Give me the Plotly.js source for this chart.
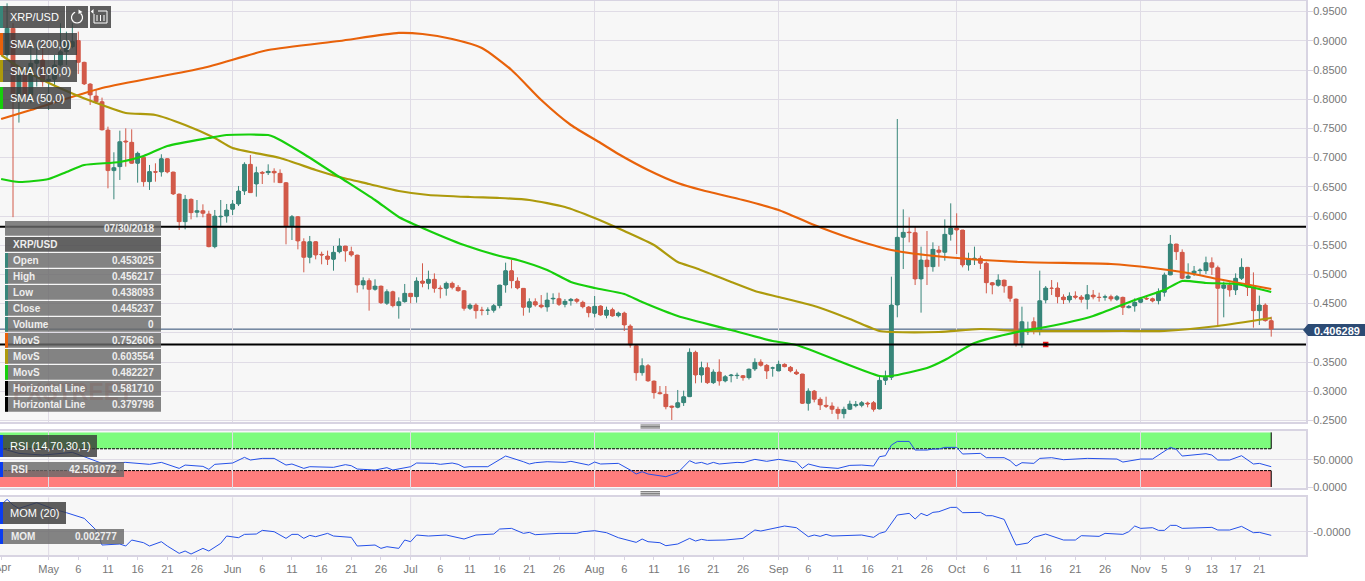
<!DOCTYPE html>
<html>
<head>
<meta charset="utf-8">
<script src="https://cdn.plot.ly/plotly-3.0.1.min.js"></script>
<style>html,body{margin:0;padding:0;background:#fff;overflow:hidden}#chart{width:1365px;height:581px}</style>
</head>
<body>
<div id="chart"></div>
<script>
// Days are counted from 1 May 2018; one candle per calendar day, first candle is day -7.
const firstDay = -7;
const openPrices = [
.8757,.9214,.8072,.8415,.8072,.8614,.8672,.8315,.8341,.8586,
.8814,.8900,.9003,.8632,.8261,.8055,.7958,.7473,.6777,.6845,
.7285,.7262,.6902,.7005,.6588,.6760,.6754,.6982,.6754,.6377,
.5903,.6286,.6063,.6092,.6035,.5475,.5985,.6000,.6115,.6206,
.6428,.6885,.6548,.6748,.6742,.6765,.6731,.6571,.5829,.5989,
.5561,.5292,.5561,.5344,.5315,.5258,.5389,.5486,.5389,.5332,
.4818,.4893,.4744,.4801,.4505,.4704,.4465,.4533,.4676,.4619,
.4887,.4847,.4916,.4767,.4761,.4847,.4778,.4721,.4419,.4476,
.4390,.4385,.4385,.4465,.4818,.5064,.4887,.4761,.4436,.4533,
.4476,.4442,.4579,.4584,.4487,.4550,.4573,.4522,.4442,.4333,
.4459,.4299,.4396,.4293,.4339,.4116,.3780,.3317,.3437,.3175,
.2975,.2947,.2747,.2724,.2804,.2906,.3666,.3277,.3403,.3146,
.3329,.3175,.3266,.3266,.3266,.3232,.3380,.3500,.3443,.3395,
.3346,.3460,.3409,.3329,.3295,.2792,.3003,.2861,.2758,.2747,
.2690,.2615,.2690,.2752,.2758,.2798,.2804,.2696,.3186,.3237,
.4476,.5635,.5726,.5715,.4921,.5247,.5132,.5418,.5378,.5686,
.5795,.5760,.5161,.5264,.5275,.5190,.4858,.4813,.4904,.4795,
.4579,.3803,.4014,.4191,.4031,.4562,.4767,.4767,.4613,.4562,
.4630,.4613,.4573,.4647,.4610,.4607,.4619,.4573,.4607,.4430,
.4459,.4522,.4590,.4584,.4550,.4693,.4990,.5521,.5378,.4933,
.5018,.5064,.5064,.5201,.5115,.4761,.4818,.4733,.4933,.5121,
.4778,.4379,.4476,.4208];
const highPrices = [
.9642,.9300,.8500,.8560,.8900,.8957,.9000,.8560,.8757,.9300,
.9157,.9300,.9157,.8640,.8272,.8158,.8027,.7530,.7091,.7461,
.7501,.7484,.7102,.7045,.6874,.6902,.7057,.6982,.6754,.6377,
.6360,.6300,.6274,.6200,.6090,.6103,.6274,.6206,.6274,.6514,
.6920,.7045,.6845,.6770,.6885,.6817,.6799,.6571,.6017,.5989,
.5618,.5658,.5561,.5389,.5407,.5487,.5618,.5486,.5475,.5332,
.4950,.4933,.4916,.4801,.4744,.4721,.4607,.4836,.4676,.4950,
.5190,.5064,.5018,.4812,.4876,.4876,.4818,.4733,.4505,.4505,
.4445,.4436,.4493,.4818,.5201,.5247,.4950,.4761,.4590,.4590,
.4647,.4687,.4676,.4687,.4579,.4596,.4596,.4550,.4459,.4630,
.4470,.4447,.4430,.4362,.4362,.4145,.3780,.3563,.3466,.3175,
.3089,.3089,.2747,.3021,.3009,.3734,.3694,.3506,.3489,.3374,
.3546,.3277,.3295,.3317,.3277,.3380,.3563,.3546,.3466,.3420,
.3523,.3477,.3432,.3374,.3295,.3049,.3021,.2895,.2906,.2809,
.2735,.2735,.2838,.2832,.2832,.2821,.2832,.3277,.3352,.4961,
.7661,.6114,.5977,.5817,.5475,.5743,.5549,.5486,.5943,.6217,
.6046,.5760,.5372,.5475,.5321,.5218,.4870,.5001,.4904,.4801,
.4579,.4447,.4191,.4265,.5064,.4801,.4904,.4864,.4659,.4693,
.4710,.4647,.4818,.4733,.4687,.4653,.4653,.4647,.4619,.4476,
.4590,.4590,.4647,.4602,.4761,.5030,.5675,.5521,.5429,.5190,
.5144,.5104,.5304,.5292,.5150,.4876,.4864,.5018,.5275,.5121,
.5035,.4636,.4505,.4276];
const lowPrices = [
.8700,.5980,.7599,.7970,.7930,.8215,.8215,.7815,.8215,.8557,
.8586,.8871,.8432,.8243,.7901,.7918,.7473,.6474,.6286,.6617,
.6845,.6902,.6571,.6503,.6446,.6588,.6674,.6731,.6360,.5761,
.5772,.5943,.5977,.5977,.5465,.5447,.5830,.5886,.6017,.6172,
.6360,.6400,.6331,.6548,.6702,.6571,.6571,.5515,.5589,.5429,
.5036,.5190,.5258,.5173,.5161,.5064,.5361,.5218,.5304,.4687,
.4744,.4379,.4721,.4493,.4476,.4436,.4242,.4516,.4505,.4516,
.4779,.4744,.4687,.4590,.4636,.4744,.4704,.4379,.4390,.4242,
.4299,.4305,.4345,.4419,.4687,.4761,.4744,.4293,.4345,.4447,
.4419,.4362,.4493,.4459,.4436,.4465,.4505,.4419,.4265,.4265,
.4293,.4248,.4276,.4265,.4031,.3745,.3180,.3266,.3165,.2872,
.2947,.2690,.2507,.2707,.2747,.2906,.3135,.3146,.3123,.3123,
.3095,.3152,.3152,.3209,.3180,.3200,.3346,.3420,.3209,.3249,
.3346,.3409,.3323,.3277,.2781,.2667,.2809,.2678,.2712,.2610,
.2518,.2535,.2678,.2724,.2724,.2724,.2650,.2690,.3106,.3192,
.4265,.5092,.5549,.4818,.4345,.4818,.5047,.5132,.5235,.5578,
.5349,.5121,.5064,.5161,.5092,.4676,.4659,.4790,.4687,.4533,
.3763,.3745,.3963,.3974,.3957,.4505,.4647,.4505,.4493,.4516,
.4573,.4516,.4402,.4573,.4533,.4550,.4539,.4544,.4305,.4419,
.4362,.4505,.4562,.4522,.4487,.4619,.4990,.5247,.4916,.4933,
.4973,.4973,.5007,.4990,.4117,.4265,.4619,.4647,.4904,.4630,
.4088,.4134,.4191,.3934];
const closePrices = [
.9214,.8044,.8415,.8072,.8614,.8672,.8300,.8340,.8586,.8814,
.8986,.8986,.8632,.8261,.8072,.7958,.7473,.6777,.6828,.7273,
.7268,.6902,.7073,.6588,.6760,.6748,.6982,.6754,.6377,.5903,
.6286,.6057,.6092,.6046,.5475,.6000,.5995,.6103,.6206,.6428,
.6885,.6400,.6742,.6731,.6765,.6737,.6571,.5829,.5989,.5572,
.5292,.5561,.5332,.5332,.5258,.5378,.5486,.5401,.5332,.4818,
.4893,.4744,.4801,.4516,.4704,.4465,.4533,.4676,.4619,.4887,
.4847,.4916,.4761,.4756,.4847,.4778,.4721,.4419,.4476,.4379,
.4385,.4390,.4465,.4818,.5064,.4893,.4767,.4436,.4533,.4476,
.4442,.4562,.4590,.4487,.4539,.4573,.4539,.4447,.4345,.4453,
.4305,.4390,.4288,.4339,.4134,.3791,.3317,.3437,.3175,.2975,
.2958,.2735,.2724,.2804,.2906,.3666,.3277,.3403,.3146,.3329,
.3175,.3249,.3277,.3272,.3232,.3380,.3494,.3443,.3346,.3400,
.3460,.3420,.3346,.3295,.2792,.3003,.2861,.2764,.2741,.2690,
.2621,.2690,.2781,.2775,.2804,.2781,.2690,.3186,.3237,.4476,
.5635,.5720,.5715,.4921,.5247,.5132,.5429,.5378,.5686,.5795,
.5760,.5161,.5264,.5275,.5190,.4858,.4818,.4904,.4801,.4590,
.3803,.4191,.4031,.4031,.4550,.4767,.4761,.4619,.4567,.4630,
.4607,.4573,.4653,.4613,.4605,.4619,.4579,.4619,.4436,.4453,
.4522,.4579,.4579,.4544,.4704,.4990,.5521,.5389,.4933,.4973,
.5058,.5075,.5201,.5121,.4761,.4818,.4733,.4933,.5121,.4778,
.4379,.4476,.4208,.4063];

const sma200Days = [-8,-3,9,26,37,49,59,63,68,73,78,83,88,93,96,101,106,110,117,123,129,135,142,151,164,179,186,192,197,206];
const sma200Values = [.7661,.7815,.8192,.8534,.8842,.8997,.9134,.9116,.9031,.8877,.8500,.7986,.7558,.7250,.7062,.6788,.6565,.6445,.6274,.6103,.5846,.5623,.5418,.5298,.5212,.5178,.5110,.5024,.4921,.4750];
const sma100Days = [-8,-5,-1,5,9,13,18,23,28,31,39,45,49,54,59,64,71,76,81,87,92,97,102,106,109,115,119,123,129,135,140,142,150,157,164,181,188,197,206];
const sma100Values = [.8757,.8551,.8329,.8055,.7901,.7764,.7729,.7558,.7336,.7164,.6993,.6788,.6668,.6548,.6428,.6360,.6325,.6308,.6274,.6154,.5966,.5743,.5503,.5212,.5110,.4870,.4716,.4613,.4459,.4236,.4031,.4014,.4014,.4065,.4031,.4031,.4031,.4116,.4253];
const sma50Days = [-8,-5,0,3,6,12,16,20,27,30,37,38,43,49,55,59,63,70,76,79,84,88,92,97,100,106,115,122,126,140,142,148,151,156,164,168,176,183,188,191,195,200,206];
const sma50Values = [.6634,.6582,.6634,.6753,.6873,.6925,.7027,.7199,.7336,.7387,.7387,.7353,.7062,.6668,.6274,.5983,.5795,.5503,.5315,.5247,.5075,.4870,.4767,.4664,.4527,.4288,.4048,.3860,.3791,.3260,.3260,.3397,.3534,.3825,.4031,.4099,.4288,.4562,.4733,.4887,.4853,.4836,.4699];

const rsiDays = [-8,-5,-1,4,6,9,13,15,17,19,22,23,26,27,28,31,33,34,36,38,40,41,43,44,48,50,51,52,55,57,58,61,62,65,66,68,69,70,71,74,77,80,81,82,84,87,88,91,92,93,96,98,99,100,101,104,106,108,109,110,111,112,113,116,117,119,121,123,126,127,128,130,133,135,137,139,140,141,142,143,145,146,148,149,150,151,153,154,157,158,161,162,163,164,166,167,169,171,175,180,181,184,186,189,190,191,195,196,197,199,201,203,204,206];
const rsiValues = [70.7,61.6,58.5,63.4,55.5,43.3,45.1,43.3,41.5,45.1,34.1,40.2,37.8,32.3,41.5,43.9,54.3,49.4,52.4,52.4,40.2,42.1,34.1,37.2,36,40.9,39,32.9,31.1,35.4,31.1,37.2,43.9,43.3,41.5,43.9,41.5,36,37.2,37.2,56.7,46.3,42.1,44.5,46.3,45.1,47,40.2,45.7,42.1,43.3,31.1,23.8,28,23.8,18.9,26.2,48.2,43.3,45.1,41.5,45.1,42.1,45.1,44.5,50.6,47,50.6,45.7,34.1,42.1,36.6,34.1,39.6,40.2,38.4,55.5,57.3,76.8,83.5,83.5,67.7,67.7,69.5,69.5,72.6,72.6,60.4,61.6,53.7,53.7,48.2,38.4,44.5,43.3,52.4,53.7,50,52.4,51.2,45.7,51.2,51.2,72.6,68.9,56.7,61,58.5,49.4,49.4,57.3,42.1,43.3,37.2];

const momDays = [-8,-7,-6,-5,-2,1,3,5,6,8,9,12,13,14,16,17,19,20,22,23,24,26,27,29,30,32,33,35,36,38,40,41,42,43,44,45,47,48,51,52,55,56,57,59,60,61,62,64,67,70,72,75,76,78,80,81,82,86,89,90,92,94,96,99,100,101,103,104,106,108,109,110,111,114,117,119,120,124,126,128,129,130,131,132,137,139,140,141,143,145,146,147,148,149,150,152,153,154,157,158,159,161,163,165,166,168,171,173,174,177,178,181,182,183,184,186,187,188,189,190,191,196,197,199,201,203,204,206];
const momValues = [.080,.097,.080,.070,.087,.067,.057,.047,.040,.005,-.040,-.037,-.043,-.025,-.033,-.043,-.030,-.043,-.065,-.058,-.067,-.050,-.058,-.035,-.013,-.018,-.008,-.007,.004,0,-.020,-.008,-.008,-.020,-.011,-.015,-.005,-.013,-.017,-.043,-.040,-.050,-.045,-.050,-.025,-.030,-.010,-.013,-.010,-.022,-.010,-.007,.008,.010,-.005,-.002,-.009,-.005,-.005,0,.003,-.003,-.018,-.032,-.022,-.030,-.033,-.042,-.037,-.020,-.028,-.023,-.026,-.025,-.020,.005,.002,.017,.012,-.015,-.010,-.014,-.008,-.013,-.010,-.017,-.005,0,.050,.055,.038,.055,.048,.058,.060,.073,.073,.057,.058,.048,.048,.037,-.040,-.034,-.017,-.007,-.025,-.025,-.012,-.014,-.005,-.008,0,.017,.010,.012,.004,.004,.019,.019,.010,.013,.005,.005,.016,-.003,-.002,-.011];

const horizontalLevels = [0.581710, 0.379798];
const lastPrice = 0.406289;
const alertDay = 168;
const alertLevel = 0.379798;

const priceTicks = [.95,.9,.85,.8,.75,.7,.65,.6,.55,.5,.45,.4,.35,.3,.25];
const monthDays = [0,31,61,92,123,153,184];
const tickDays = [-8,0,5,10,15,20,25,31,36,41,46,51,56,61,66,71,76,81,86,92,97,102,107,112,117,123,128,133,138,143,148,153,158,163,168,173,178,184,188,192,196,200,204];
const tickLabels = ['','May','6','11','16','21','26','Jun','6','11','16','21','26','Jul','6','11','16','21','26','Aug','6','11','16','21','26','Sep','6','11','16','21','26','Oct','6','11','16','21','26','Nov','5','9','13','17','21'];

const infoDate = '07/30/2018';
const infoSymbol = 'XRP/USD';
const infoLabels = ['Open','High','Low','Close','Volume','MovS','MovS','MovS','Horizontal Line','Horizontal Line'];
const infoValues = ['0.453025','0.456217','0.438093','0.445237','0','0.752606','0.603554','0.482227','0.581710','0.379798'];

// ---- styling & helpers ----
const W = 1365, H = 581, plotRight = 1306;
const TEAL = '#38867a', RED = '#d25a4a', ORANGE = '#e8620a', OLIVE = '#ad9a0c', LIME = '#17cf0c', BLUE = '#2450e8';
const GRID = '#e0dce6', BORDER = '#d8d4e2', TEXT = '#777777', FONT = '"Liberation Sans", Arial, sans-serif';
const px = x => x / W, py = y => 1 - y / H;
const dateOf = d => new Date(Date.UTC(2018, 4, 1) + d * 864e5).toISOString().slice(0, 19);
const candleDays = openPrices.map((_, i) => firstDay + i);
const fmt = v => v.toFixed(4);

const traces = [
  // candle bodies, widened to the reference's width
  { type: 'bar', x: candleDays.map(dateOf), base: openPrices.map((o, i) => Math.min(o, closePrices[i])), y: openPrices.map((o, i) => Math.abs(o - closePrices[i])),
    width: 0.82 * 864e5, marker: { color: openPrices.map((o, i) => closePrices[i] >= o ? TEAL : RED), line: { width: 0 } }, xaxis: 'x', yaxis: 'y', showlegend: false, hoverinfo: 'skip' },
  { type: 'candlestick', x: candleDays.map(dateOf), open: openPrices, high: highPrices, low: lowPrices, close: closePrices,
    increasing: { line: { color: TEAL, width: 1 }, fillcolor: TEAL },
    decreasing: { line: { color: RED, width: 1 }, fillcolor: RED },
    whiskerwidth: 0, xaxis: 'x', yaxis: 'y', showlegend: false, hoverinfo: 'skip' },
  { type: 'scatter', mode: 'lines', x: sma200Days.map(dateOf), y: sma200Values, line: { color: ORANGE, width: 2.2, shape: 'spline', smoothing: 0.6 }, xaxis: 'x', yaxis: 'y', hoverinfo: 'skip' },
  { type: 'scatter', mode: 'lines', x: sma100Days.map(dateOf), y: sma100Values, line: { color: OLIVE, width: 2.2, shape: 'spline', smoothing: 0.6 }, xaxis: 'x', yaxis: 'y', hoverinfo: 'skip' },
  { type: 'scatter', mode: 'lines', x: sma50Days.map(dateOf), y: sma50Values, line: { color: LIME, width: 2.2, shape: 'spline', smoothing: 0.6 }, xaxis: 'x', yaxis: 'y', hoverinfo: 'skip' },
  { type: 'scatter', mode: 'markers', x: [dateOf(alertDay)], y: [alertLevel], marker: { symbol: 'square', size: 4, color: '#000', line: { color: '#e81818', width: 1.5 } }, xaxis: 'x', yaxis: 'y', hoverinfo: 'skip' },
  { type: 'scatter', mode: 'lines', x: rsiDays.map(dateOf), y: rsiValues, line: { color: BLUE, width: 1 }, xaxis: 'x2', yaxis: 'y2', hoverinfo: 'skip' },
  { type: 'scatter', mode: 'lines', x: momDays.map(dateOf), y: momValues, line: { color: BLUE, width: 1 }, xaxis: 'x3', yaxis: 'y3', hoverinfo: 'skip' }
];

const shapes = [], annotations = [];
const rect = (x0, y0, x1, y1, fill, layer) => shapes.push({ type: 'rect', xref: 'paper', yref: 'paper', x0: px(x0), x1: px(x1), y0: py(y0), y1: py(y1), fillcolor: fill, line: { width: 0 }, layer: layer || 'above' });
const seg = (x0, y0, x1, y1, color, w) => shapes.push({ type: 'line', xref: 'paper', yref: 'paper', x0: px(x0), x1: px(x1), y0: py(y0), y1: py(y1), line: { color, width: w || 1 }, layer: 'above' });
const poly = (pts, fill, color, w) => shapes.push({ type: 'path', xref: 'paper', yref: 'paper', layer: 'above',
  path: pts.map((p, i) => (i ? 'L' : 'M') + px(p[0]) + ',' + py(p[1])).join(' ') + (fill ? ' Z' : ''),
  fillcolor: fill || 'rgba(0,0,0,0)', line: { color: color || 'rgba(0,0,0,0)', width: w || 0 } });
const label = (x, y, text, anchor, size, color, bold) => annotations.push({ xref: 'paper', yref: 'paper', x: px(x), y: py(y), text: bold ? '<b>' + text + '</b>' : text, showarrow: false, xanchor: anchor, yanchor: 'middle', align: anchor, borderpad: 0, font: { family: FONT, size, color: color || '#fff' } });

// month grid in the lower pane (tick labels there fall on every fifth day)
monthDays.forEach(d => shapes.push({ type: 'line', xref: 'x3', yref: 'y3 domain', x0: dateOf(d), x1: dateOf(d), y0: 0, y1: 1, line: { color: GRID, width: 1 }, layer: 'below' }));
// RSI bands
const bandEnd = dateOf(206);
const bandStart = dateOf(-8.19);
[[70, 100, '#7dfc7d'], [0, 30, '#ff7d7d']].forEach(b => shapes.push({ type: 'rect', xref: 'x2', yref: 'y2', x0: bandStart, x1: bandEnd, y0: b[0], y1: b[1], fillcolor: b[2], line: { width: 0 }, layer: 'below' }));
[70, 30].forEach(v => shapes.push({ type: 'line', xref: 'x2', yref: 'y2', x0: bandStart, x1: bandEnd, y0: v, y1: v, line: { color: '#000', width: 1, dash: '3px,1px' }, layer: 'below' }));
[[70, 100], [0, 30]].forEach(b => shapes.push({ type: 'line', xref: 'x2', yref: 'y2', x0: bandEnd, x1: bandEnd, y0: b[0], y1: b[1], line: { color: '#000', width: 1 }, layer: 'below' }));
// price levels
shapes.push({ type: 'line', xref: 'x domain', yref: 'y', x0: 0, x1: 1, y0: lastPrice, y1: lastPrice, line: { color: '#2c4a72', width: 1 }, layer: 'below' });
horizontalLevels.forEach(v => shapes.push({ type: 'line', xref: 'x domain', yref: 'y', x0: 0, x1: 1, y0: v, y1: v, line: { color: '#000', width: 2 }, layer: 'above' }));

// price tag
poly([[1303, 330], [1308, 324], [1365, 324], [1365, 336], [1308, 336]], '#2c4b74');
label(1313, 330.5, lastPrice.toFixed(6), 'left', 11, '#fff', true);

// first, clipped month label
label(12, 567, 'Apr', 'right', 11, TEXT, false);

// pane resize handles
[[425, 426.7, 428], [491.7, 493.3, 495]].forEach(ys => ys.forEach(y => seg(640.5, y, 660, y, '#666', 1)));

// top-left toolbar & indicator chips
const CHIP = 'rgba(58,58,58,0.82)';
[[6, 65, TEAL, 'XRP/USD'], [33, 77, ORANGE, 'SMA (200,0)'], [60, 77, OLIVE, 'SMA (100,0)'], [87, 71, LIME, 'SMA (50,0)']].forEach(c => {
  rect(0, c[0], 3, c[0] + 22, c[2]);
  rect(3, c[0], c[1], c[0] + 22, CHIP);
  label(9, c[0] + 11, c[3], 'left', 11, '#fff', false);
});
rect(66, 6, 88, 28, CHIP);
rect(90, 6, 111, 28, CHIP);
// refresh icon
const arc = [];
for (let a = -50; a <= 250; a += 20) arc.push([77 + 5.5 * Math.cos(a * Math.PI / 180), 17.5 + 5.5 * Math.sin(a * Math.PI / 180)]);
poly(arc, null, '#fff', 1.2);
poly([[78.5, 9.5], [82.5, 12], [78.5, 14]], '#fff');
// chart-settings icon
poly([[94, 14], [94, 23], [107, 23], [107, 11], [98, 11]], null, '#fff', 1);
poly([[93.5, 9], [93.5, 14], [90.8, 11.5]], '#fff');
[97, 100.5, 104].forEach(x => seg(x, 15, x, 21, '#fff', 1));

// watermark under the data box
label(12, 392, 'FXSTREET', 'left', 23, 'rgba(130,70,60,0.20)', true);

// data box
const ROW = 'rgba(105,105,105,0.82)', ROWDARK = 'rgba(72,72,72,0.85)';
rect(5, 221, 161, 235.7, ROW);
label(155, 228.6, infoDate, 'right', 10, '#eee', true);
rect(5, 237, 161, 251.7, ROWDARK);
label(12, 244.6, infoSymbol, 'left', 10, '#eee', true);
const infoColors = [TEAL, TEAL, TEAL, TEAL, TEAL, ORANGE, OLIVE, LIME, '#000', '#000'];
infoLabels.forEach((name, i) => {
  const y0 = 253 + 16 * i;
  rect(5, y0, 161, y0 + 14.7, ROW);
  rect(5, y0, 8, y0 + 14.7, infoColors[i]);
  label(12, y0 + 7.6, name, 'left', 10, '#eee', true);
  label(155, y0 + 7.6, infoValues[i], 'right', 10, '#eee', true);
});

// RSI & MOM chips
[[435, 97, 'RSI (14,70,30,1)'], [502, 66, 'MOM (20)']].forEach(c => {
  rect(0, c[0], 3, c[0] + 22, '#0a3cf0');
  rect(3, c[0], c[1], c[0] + 22, CHIP);
  label(9, c[0] + 11, c[2], 'left', 11, '#fff', false);
});
[[462, 'RSI', '42.501072'], [529, 'MOM', '0.002777']].forEach(c => {
  rect(0, c[0], 3, c[0] + 15, '#0a3cf0');
  rect(3, c[0], 124, c[0] + 15, ROW);
  label(10, c[0] + 7.8, c[1], 'left', 10, '#eee', true);
  label(118, c[0] + 7.8, c[2], 'right', 10, '#eee', true);
});

const xRange = [dateOf(-8.19), dateOf(211.86)];
const xDomain = [0, plotRight / W];
const baseX = { type: 'date', range: xRange, domain: xDomain, showgrid: true, gridcolor: GRID, gridwidth: 1, zeroline: false, fixedrange: true,
  tickmode: 'array', tickvals: monthDays.map(dateOf), ticktext: monthDays.map(() => ''), ticks: '', showline: true, linecolor: BORDER, linewidth: 2, mirror: true, rangeslider: { visible: false } };
const baseY = { side: 'right', gridcolor: GRID, gridwidth: 1, zeroline: false, fixedrange: true, tickmode: 'array', ticks: 'outside', ticklen: 5, tickcolor: BORDER, tickwidth: 1, ticklabelstandoff: -2, showline: true, linecolor: BORDER, linewidth: 2, mirror: true, tickfont: { family: FONT, size: 11, color: TEXT } };

const layout = {
  width: W, height: H, margin: { l: 0, r: 0, t: 0, b: 0, pad: 0 }, autosize: false, showlegend: false, dragmode: false,
  paper_bgcolor: '#ffffff', plot_bgcolor: '#f7f7f7', barmode: 'overlay', hovermode: false,
  xaxis: Object.assign({}, baseX, { anchor: 'y' }),
  yaxis: Object.assign({}, baseY, { anchor: 'x', domain: [py(421.5), py(1)], range: [0.6 - 205.5 / 584, 0.6 + 215 / 584], tickvals: priceTicks, ticktext: priceTicks.map(v => v === .4 ? '' : fmt(v)) }),
  xaxis2: Object.assign({}, baseX, { anchor: 'y2' }),
  yaxis2: Object.assign({}, baseY, { anchor: 'x2', domain: [py(487.7), py(430.7)], range: [-0.7 / 0.546, 56.3 / 0.546], tickvals: [0, 50], ticktext: ['0.0000', '50.0000'] }),
  xaxis3: Object.assign({}, baseX, { anchor: 'y3', showgrid: false, tickvals: tickDays.map(dateOf), ticktext: tickLabels, ticks: 'outside', ticklen: 3, tickcolor: BORDER, tickangle: 0, ticklabelstandoff: -1, tickfont: { family: FONT, size: 11, color: TEXT } }),
  yaxis3: Object.assign({}, baseY, { anchor: 'x3', domain: [py(555.3), py(497.3)], range: [-23.6 * 0.003, 34.4 * 0.003], tickvals: [0], ticktext: ['-0.0000'] }),
  shapes, annotations
};

Plotly.newPlot('chart', traces, layout, { staticPlot: true, displayModeBar: false, responsive: false });
</script>
</body>
</html>
